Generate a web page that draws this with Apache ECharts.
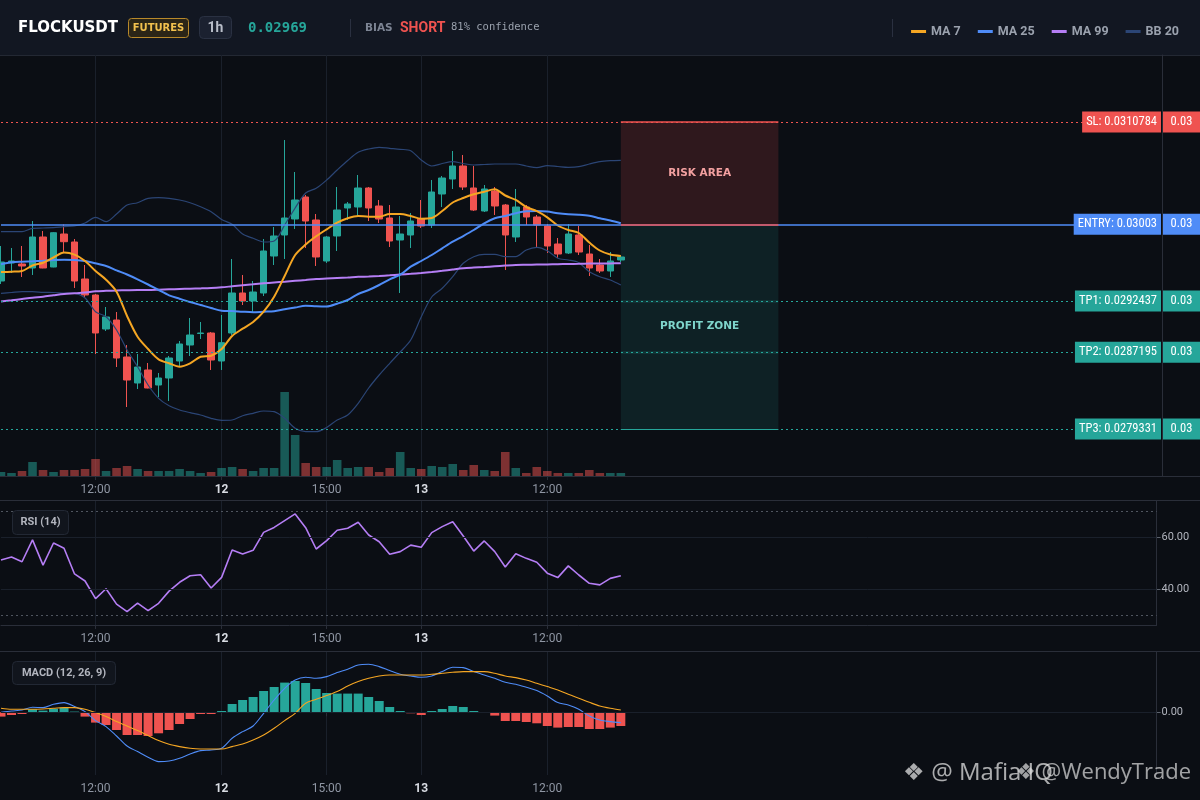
<!DOCTYPE html>
<html>
<head>
<meta charset="utf-8">
<script src="https://cdn.jsdelivr.net/npm/echarts@6/dist/echarts.min.js"></script>
<style>html,body{margin:0;padding:0;background:#0b0e14;}#c{width:1200px;height:800px;}</style>
</head>
<body>
<div id="c"></div>
<script>
// ---------- DATA ----------
const symbolName = 'FLOCKUSDT';
const lastPriceText = '0.02969';
const biasText = 'SHORT';
const confidenceText = '81% confidence';

// x slots: 60 candles + empty future slots
const candleCount = 60;
const slotCount = 111;
const tickIndex = [9, 21, 31, 40, 52];
const tickLabels = ['12:00', '12', '15:00', '13', '12:00'];
const tickBold = [false, true, false, true, false];

// [open, close, low, high]
const candles = [
  [0.0294494, 0.0296441, 0.0294187, 0.0298080],
  [0.0296338, 0.0296543, 0.0295314, 0.0297875],
  [0.0296236, 0.0296031, 0.0294904, 0.0298080],
  [0.0295826, 0.0299002, 0.0295109, 0.0300641],
  [0.0299002, 0.0295826, 0.0295800, 0.0299617],
  [0.0295928, 0.0299443, 0.0295900, 0.0299500],
  [0.0299309, 0.0298520, 0.0297363, 0.0300303],
  [0.0298490, 0.0294494, 0.0293777, 0.0298797],
  [0.0294699, 0.0293060, 0.0292855, 0.0296133],
  [0.0293060, 0.0289167, 0.0287015, 0.0293162],
  [0.0289576, 0.0290806, 0.0289372, 0.0291830],
  [0.0290499, 0.0286605, 0.0285683, 0.0291318],
  [0.0286708, 0.0284351, 0.0281585, 0.0287937],
  [0.0284044, 0.0285683, 0.0283429, 0.0287015],
  [0.0285376, 0.0283532, 0.0283500, 0.0286093],
  [0.0283839, 0.0284556, 0.0282610, 0.0285069],
  [0.0284556, 0.0286605, 0.0282200, 0.0286810],
  [0.0286298, 0.0288040, 0.0285786, 0.0288347],
  [0.0287937, 0.0288962, 0.0286810, 0.0290703],
  [0.0289116, 0.0289167, 0.0288552, 0.0290294],
  [0.0289167, 0.0286400, 0.0285376, 0.0289269],
  [0.0286298, 0.0288173, 0.0285376, 0.0291011],
  [0.0289167, 0.0293265, 0.0288962, 0.0296748],
  [0.0293265, 0.0292445, 0.0292035, 0.0295109],
  [0.0292445, 0.0293367, 0.0291318, 0.0294494],
  [0.0293265, 0.0297568, 0.0292957, 0.0298797],
  [0.0297055, 0.0299105, 0.0296133, 0.0300027],
  [0.0299207, 0.0300949, 0.0296748, 0.0308940],
  [0.0300846, 0.0302793, 0.0299822, 0.0305661],
  [0.0303100, 0.0300641, 0.0297875, 0.0303305],
  [0.0300744, 0.0296953, 0.0296031, 0.0301358],
  [0.0296543, 0.0299002, 0.0296338, 0.0299105],
  [0.0299105, 0.0301768, 0.0297568, 0.0304125],
  [0.0301973, 0.0302383, 0.0300744, 0.0302588],
  [0.0302076, 0.0304022, 0.0301154, 0.0305354],
  [0.0304022, 0.0301973, 0.0300641, 0.0304125],
  [0.0302178, 0.0300846, 0.0300436, 0.0302793],
  [0.0300949, 0.0298592, 0.0297978, 0.0302280],
  [0.0298695, 0.0299309, 0.0293265, 0.0301154],
  [0.0299207, 0.0300641, 0.0297875, 0.0301461],
  [0.0300846, 0.0300129, 0.0299924, 0.0302793],
  [0.0300231, 0.0303612, 0.0299924, 0.0304842],
  [0.0303408, 0.0305047, 0.0302076, 0.0305252],
  [0.0304944, 0.0306276, 0.0303920, 0.0307813],
  [0.0306276, 0.0304125, 0.0303817, 0.0307403],
  [0.0304022, 0.0301768, 0.0301666, 0.0306276],
  [0.0301666, 0.0303920, 0.0301563, 0.0304330],
  [0.0303715, 0.0302178, 0.0301256, 0.0304125],
  [0.0302280, 0.0299207, 0.0295621, 0.0302383],
  [0.0299002, 0.0302076, 0.0298490, 0.0303920],
  [0.0302076, 0.0301051, 0.0300231, 0.0302280],
  [0.0301051, 0.0300231, 0.0297978, 0.0301256],
  [0.0300129, 0.0298080, 0.0297363, 0.0300334],
  [0.0298285, 0.0297260, 0.0296851, 0.0298900],
  [0.0297363, 0.0299309, 0.0297260, 0.0300334],
  [0.0299207, 0.0297465, 0.0297158, 0.0300129],
  [0.0297260, 0.0295826, 0.0295006, 0.0298182],
  [0.0296133, 0.0295519, 0.0295314, 0.0296748],
  [0.0295519, 0.0296543, 0.0294904, 0.0297465],
  [0.0296646, 0.0296953, 0.0296441, 0.0297158]
];

const ma7 = [0.0295416, 0.0295447, 0.0295519, 0.0296082, 0.0296369, 0.0296902, 0.0297414, 0.0297189, 0.0296543, 0.0295519,
  0.0294627, 0.0293398, 0.0290908, 0.0288787, 0.0287527, 0.0286472, 0.0286062, 0.0285714, 0.0286062, 0.0286738,
  0.0286841, 0.0287527, 0.0288859, 0.0289607, 0.0290294, 0.0291349, 0.0292886, 0.0295006, 0.0297158, 0.0298234,
  0.0299074, 0.0299791, 0.0300467, 0.0300918, 0.0301153, 0.0301082, 0.0301082, 0.0301358, 0.0301358, 0.0301153,
  0.0300877, 0.0300948, 0.0301666, 0.0302537, 0.0302998, 0.0303377, 0.0303643, 0.0303889, 0.0303254, 0.0302793,
  0.0302075, 0.0301645, 0.0301020, 0.0300180, 0.0299719, 0.0299412, 0.0298438, 0.0297619, 0.0297209, 0.0297055];

const ma25 = [0.0296215, 0.0296410, 0.0296471, 0.0296512, 0.0296574, 0.0296646, 0.0296666, 0.0296646, 0.0296543, 0.0296307,
  0.0296031, 0.0295590, 0.0295160, 0.0294668, 0.0294135, 0.0293572, 0.0293029, 0.0292681, 0.0292343, 0.0292035,
  0.0291728, 0.0291451, 0.0291420, 0.0291349, 0.0291297, 0.0291349, 0.0291400, 0.0291605, 0.0291779, 0.0291953,
  0.0291902, 0.0291882, 0.0292168, 0.0292547, 0.0293162, 0.0293572, 0.0294084, 0.0294668, 0.0295139, 0.0295959,
  0.0296543, 0.0297158, 0.0297844, 0.0298520, 0.0299104, 0.0299719, 0.0300406, 0.0300918, 0.0301153, 0.0301430,
  0.0301635, 0.0301666, 0.0301614, 0.0301430, 0.0301328, 0.0301287, 0.0301184, 0.0300918, 0.0300692, 0.0300406];

const ma99 = [0.0292394, 0.0292517, 0.0292650, 0.0292783, 0.0292886, 0.0293029, 0.0293162, 0.0293234, 0.0293316, 0.0293449,
  0.0293490, 0.0293521, 0.0293551, 0.0293572, 0.0293572, 0.0293603, 0.0293644, 0.0293674, 0.0293705, 0.0293736,
  0.0293777, 0.0293849, 0.0293951, 0.0294053, 0.0294156, 0.0294258, 0.0294340, 0.0294422, 0.0294515, 0.0294596,
  0.0294699, 0.0294750, 0.0294801, 0.0294853, 0.0294924, 0.0294955, 0.0295006, 0.0295078, 0.0295160, 0.0295232,
  0.0295314, 0.0295416, 0.0295539, 0.0295672, 0.0295795, 0.0295867, 0.0295928, 0.0296000, 0.0296072, 0.0296133,
  0.0296154, 0.0296174, 0.0296195, 0.0296215, 0.0296236, 0.0296256, 0.0296277, 0.0296287, 0.0296297, 0.0296307];

const bbUpper = [0.0299545, 0.0299545, 0.0299545, 0.0299893, 0.0299924, 0.0299955, 0.0300057, 0.0300129, 0.0300436, 0.0301020,
  0.0300569, 0.0301358, 0.0302280, 0.0302516, 0.0302967, 0.0303028, 0.0302967, 0.0302793, 0.0302516, 0.0302106,
  0.0301594, 0.0300795, 0.0300303, 0.0299309, 0.0298869, 0.0298490, 0.0298592, 0.0300231, 0.0301973, 0.0303510,
  0.0303991, 0.0304842, 0.0305866, 0.0306840, 0.0307680, 0.0308018, 0.0308192, 0.0308089, 0.0307987, 0.0307844,
  0.0306891, 0.0306276, 0.0306532, 0.0306717, 0.0306532, 0.0306378, 0.0306430, 0.0306481, 0.0306481, 0.0306481,
  0.0306276, 0.0306102, 0.0306307, 0.0306225, 0.0306143, 0.0306204, 0.0306481, 0.0306717, 0.0306819, 0.0306860];

const bbLower = [0.0293234, 0.0293316, 0.0293398, 0.0293398, 0.0293336, 0.0293316, 0.0293265, 0.0293234, 0.0292752, 0.0291349,
  0.0290837, 0.0289474, 0.0287425, 0.0285714, 0.0283839, 0.0282476, 0.0281718, 0.0281278, 0.0281001, 0.0280765,
  0.0280427, 0.0280222, 0.0280253, 0.0280694, 0.0280940, 0.0281175, 0.0281104, 0.0280427, 0.0279403, 0.0279055,
  0.0279055, 0.0279485, 0.0280253, 0.0280765, 0.0281964, 0.0283532, 0.0284864, 0.0286062, 0.0287220, 0.0288449,
  0.0290806, 0.0292855, 0.0293746, 0.0294935, 0.0296307, 0.0296984, 0.0297229, 0.0297229, 0.0296984, 0.0296984,
  0.0297670, 0.0297947, 0.0297598, 0.0296820, 0.0296646, 0.0296369, 0.0295447, 0.0294935, 0.0294596, 0.0294084];

// volume (K)
const volumes = [40, 30, 50, 140, 60, 40, 60, 60, 70, 170,
  50, 80, 100, 70, 50, 50, 50, 70, 50, 30,
  40, 80, 90, 70, 50, 80, 80, 840, 410, 130,
  90, 90, 160, 80, 90, 90, 40, 80, 240, 80,
  70, 100, 90, 120, 60, 110, 60, 50, 240, 80,
  30, 90, 50, 30, 30, 30, 60, 30, 30, 30];

const rsi = [51.3, 52.4, 50.6, 59.0, 49.3, 57.8, 55.8, 45.9, 43.2, 36.4,
  40.2, 34.3, 31.4, 34.7, 31.8, 34.6, 39.3, 42.7, 45.2, 45.6,
  40.5, 44.6, 55.1, 53.6, 55.0, 61.9, 63.8, 66.4, 69.0, 63.7,
  55.5, 58.7, 62.7, 63.5, 65.8, 60.9, 58.3, 53.5, 54.5, 57.0,
  56.2, 61.8, 64.1, 66.0, 60.5, 54.7, 58.6, 54.5, 48.6, 53.7,
  51.9, 50.4, 46.2, 44.5, 49.0, 45.5, 42.3, 41.7, 44.2, 45.2];

// MACD values in units of 1e-6
const macdHist = [-4.3, -2.7, -1.7, 3, 1.7, 3.7, 4.7, 0.7, -4.3, -10.3,
  -12.7, -17.7, -22.7, -22.7, -23.7, -21, -17.7, -11.7, -6.7, -1.7,
  -1.7, 1.3, 8.3, 12.3, 15.3, 21.3, 25.3, 29.7, 31.3, 29.3,
  23.3, 19.3, 18.7, 18.7, 18.7, 15.3, 11.3, 5.3, 1.3, -1,
  -2.7, 1.3, 3.3, 6.3, 5.3, 1.3, -0.7, -3.3, -8.7, -8.7,
  -9.7, -11, -13.7, -15.3, -14.7, -14.7, -16.7, -16.7, -15.3, -13.7];
const macdLine = [0, 1.3, 2.3, 5, 4.7, 8, 9.7, 5.7, 0.7, -8.3,
  -14.3, -23.7, -33.7, -39.3, -45, -49.3, -48.7, -46, -41.7, -38.3,
  -37.7, -36, -26, -19.3, -13.7, -1, 12.3, 24, 32.3, 35,
  34, 35.7, 39.7, 43, 47.3, 48, 45.7, 41.7, 38, 36.3,
  35, 36.3, 40.7, 45, 44.7, 40.7, 37.3, 34, 30, 28,
  25, 21.7, 16.3, 9.7, 7.3, 3, -3.7, -7.7, -9.3, -10.3];
const macdSignal = [4, 3, 3, 3, 3.3, 4, 4.7, 4.7, 3, -0.3,
  -4.3, -9.3, -13.7, -18.3, -23.3, -28.3, -32, -34.3, -36, -36.7,
  -36.7, -36.7, -34.3, -31.7, -27.7, -22.7, -16, -8.3, -1, 9,
  13, 16.7, 20.7, 26.3, 30.7, 34, 36.3, 37.3, 37.3, 37.3,
  37.3, 38, 39, 40, 40.7, 40.7, 40.7, 39, 36.3, 34.7,
  32.3, 29, 25.7, 22.3, 18, 14, 10, 6.3, 4, 2.3];

// trade levels
const levelNames = ['SL', 'ENTRY', 'TP1', 'TP2', 'TP3'];
const levelPrices = [0.0310784, 0.03003, 0.0292437, 0.0287195, 0.0279331];
const levelAxisText = ['0.03', '0.03', '0.03', '0.03', '0.03'];
const zoneStart = 59;
const zoneEnd = 74;

// ---------- STYLE ----------
const UP = '#26a69a', DOWN = '#ef5350', ENTRYC = '#4f8cf7';
const GRIDC = '#1a202b', AXISC = '#2a2e39';
const FONT = "Roboto, 'Noto Sans', sans-serif";
const NARROW = "'Liberation Sans Narrow', 'Roboto Condensed', Roboto, sans-serif";
const levelColors = [DOWN, ENTRYC, UP, UP, UP];

const slots = Array.from({length: slotCount}, (_, i) => 'k' + i);
const isTick = (i) => tickIndex.indexOf(i) >= 0;
const tickFmt = (v, i) => {
  const k = tickIndex.indexOf(i);
  if (k < 0) return '';
  return tickBold[k] ? '{b|' + tickLabels[k] + '}' : tickLabels[k];
};

function timeAxis(gridIndex) {
  return {
    type: 'category', gridIndex, data: slots, boundaryGap: false,
    axisLine: {show: true, lineStyle: {color: AXISC}},
    axisTick: {show: true, interval: isTick, length: 4, lineStyle: {color: AXISC}},
    axisLabel: {show: true, interval: isTick, formatter: tickFmt, color: '#8f96a3', fontSize: 12,
      fontFamily: FONT, margin: 8,
      rich: {b: {fontWeight: 'bold', color: '#d9dce3', fontSize: 12, fontFamily: FONT}}},
    splitLine: {show: true, interval: isTick, lineStyle: {color: GRIDC, width: 1}}
  };
}

const gridLeft = 1, gridWidth = 1155.6;
const pMin = 0.0274516, pMax = 0.0317648;

const levelLines = levelPrices.map((p, k) => ({
  yAxis: p,
  lineStyle: {color: levelColors[k], width: k === 1 ? 1.5 : 1, type: k === 1 ? 'solid' : [2, 3]},
  label: {
    show: true, position: 'insideEnd', distance: [-43.4, 0],
    formatter: '{t|' + levelNames[k] + ': ' + String(p) + '}{g|}{v|' + levelAxisText[k] + '}',
    rich: {
      t: {backgroundColor: levelColors[k], color: '#ffffff', padding: [4, 4, 4, 4], fontSize: 12.5,
        fontFamily: NARROW, lineHeight: 13},
      g: {width: 2, height: 13},
      v: {backgroundColor: levelColors[k], color: '#ffffff', padding: [4, 4, 4, 4], fontSize: 12.5,
        fontFamily: NARROW, lineHeight: 13, width: 29, align: 'center'}
    }
  }
}));
const zoneEdges = [
  [{xAxis: zoneStart, yAxis: levelPrices[0], lineStyle: {color: DOWN, width: 1.5, type: 'solid'}, label: {show: false}}, {xAxis: zoneEnd, yAxis: levelPrices[0]}],
  [{xAxis: zoneStart, yAxis: levelPrices[1], lineStyle: {color: DOWN, width: 1.5, type: 'solid'}, label: {show: false}}, {xAxis: zoneEnd, yAxis: levelPrices[1]}],
  [{xAxis: zoneStart, yAxis: levelPrices[2], lineStyle: {color: 'rgba(38,166,154,0.14)', width: 3, type: 'solid'}, label: {show: false}}, {xAxis: zoneEnd, yAxis: levelPrices[2]}],
  [{xAxis: zoneStart, yAxis: levelPrices[3], lineStyle: {color: 'rgba(38,166,154,0.14)', width: 3, type: 'solid'}, label: {show: false}}, {xAxis: zoneEnd, yAxis: levelPrices[3]}],
  [{xAxis: zoneStart, yAxis: levelPrices[4], lineStyle: {color: UP, width: 1.2, type: 'solid'}, label: {show: false}}, {xAxis: zoneEnd, yAxis: levelPrices[4]}]
];

const zoneLabel = (txt, col) => ({show: true, position: 'inside', formatter: txt, color: col,
  fontSize: 10.5, fontWeight: 900, fontFamily: "'DejaVu Sans', sans-serif"});

const volumeData = volumes.map((v, i) => ({
  value: v,
  itemStyle: {color: candles[i][1] >= candles[i][0] ? 'rgba(38,166,154,0.5)' : 'rgba(239,83,80,0.5)'}
}));

const lineSeries = (name, data, color, width, xi, yi, smooth) => ({
  name, type: 'line', xAxisIndex: xi, yAxisIndex: yi, data, symbol: 'none', smooth: smooth,
  lineStyle: {color, width}, itemStyle: {color}, silent: true, z: 3
});

const option = {
  animation: false,
  backgroundColor: '#0b0e14',
  legend: {
    data: ['MA 7', 'MA 25', 'MA 99', 'BB 20'], right: 16, top: 20, icon: 'rect',
    itemWidth: 15, itemHeight: 3, itemGap: 17, selectedMode: false,
    textStyle: {color: '#9aa1ad', fontSize: 12.5, fontWeight: 'bold', fontFamily: FONT}
  },
  grid: [
    {left: gridLeft, top: 55, width: gridWidth, height: 421, containLabel: false, outerBoundsMode: 'none'},
    {left: gridLeft, top: 376, width: gridWidth, height: 100, containLabel: false, outerBoundsMode: 'none'},
    {left: gridLeft, top: 501, width: gridWidth, height: 124, containLabel: false, outerBoundsMode: 'none'},
    {left: gridLeft, top: 652, width: gridWidth, height: 123, containLabel: false, outerBoundsMode: 'none'}
  ],
  xAxis: [
    timeAxis(0),
    {type: 'category', gridIndex: 1, data: slots, boundaryGap: false, show: false},
    timeAxis(2),
    timeAxis(3)
  ],
  yAxis: [
    {type: 'value', gridIndex: 0, position: 'right', min: pMin, max: pMax, offset: 5.4,
      axisLine: {show: true, lineStyle: {color: AXISC}}, axisTick: {show: false},
      axisLabel: {show: false}, splitLine: {show: false}},
    {type: 'value', gridIndex: 1, min: 0, max: 1000, show: false, splitLine: {show: false}},
    {type: 'value', gridIndex: 2, position: 'right', min: 26.27, max: 73.96,
      axisLine: {show: true, lineStyle: {color: AXISC}},
      axisTick: {show: true, customValues: [40, 60], length: 4, lineStyle: {color: '#5d636e'}},
      axisLabel: {show: true, customValues: [40, 60], formatter: (v) => v.toFixed(2),
        color: '#b2b5be', fontSize: 11, fontFamily: FONT, margin: 5},
      splitLine: {show: false}},
    {type: 'value', gridIndex: 3, position: 'right', min: -62.7, max: 60.3,
      axisLine: {show: true, lineStyle: {color: AXISC}},
      axisTick: {show: true, customValues: [0], length: 4, lineStyle: {color: '#5d636e'}},
      axisLabel: {show: true, customValues: [0], formatter: (v) => (v * 1e-6).toFixed(2),
        color: '#b2b5be', fontSize: 11, fontFamily: FONT, margin: 5},
      splitLine: {show: false}}
  ],
  series: [
    {
      name: 'K', type: 'candlestick', xAxisIndex: 0, yAxisIndex: 0, data: candles, barWidth: 7,
      itemStyle: {color: UP, color0: DOWN, borderColor: UP, borderColor0: DOWN, borderWidth: 1},
      z: 2,
      markLine: {silent: true, symbol: ['none', 'none'], animation: false, precision: 8,
        data: levelLines.concat(zoneEdges)},
      markArea: {silent: true,
        data: [
          [{xAxis: zoneStart, yAxis: levelPrices[0], itemStyle: {color: 'rgba(239,83,80,0.16)'},
            label: zoneLabel('RISK AREA', '#f3a0a0')}, {xAxis: zoneEnd, yAxis: levelPrices[1]}],
          [{xAxis: zoneStart, yAxis: levelPrices[1], itemStyle: {color: 'rgba(38,166,154,0.13)'},
            label: zoneLabel('PROFIT ZONE', '#7fd6cc')}, {xAxis: zoneEnd, yAxis: levelPrices[4]}]
        ]}
    },
    lineSeries('BB 20', bbUpper, '#2b4575', 1.2, 0, 0, 0.3),
    lineSeries('BB 20', bbLower, '#2b4575', 1.2, 0, 0, 0.3),
    lineSeries('MA 99', ma99, '#b57ef5', 2, 0, 0, 0.3),
    lineSeries('MA 25', ma25, '#4f8cf7', 2, 0, 0, 0.3),
    lineSeries('MA 7', ma7, '#f5a623', 2, 0, 0, 0.3),
    {name: 'Volume', type: 'bar', xAxisIndex: 1, yAxisIndex: 1, data: volumeData, barWidth: 8.6, silent: true, z: 1},
    Object.assign(lineSeries('RSI', rsi, '#b57ef5', 1.6, 2, 2, false), {
      markLine: {silent: true, symbol: ['none', 'none'], label: {show: false},
        data: [
          {yAxis: 70, lineStyle: {color: '#4f555f', type: [2, 3], width: 1}},
          {yAxis: 30, lineStyle: {color: '#4f555f', type: [2, 3], width: 1}},
          {yAxis: 60, lineStyle: {color: GRIDC, type: 'solid', width: 1}},
          {yAxis: 40, lineStyle: {color: GRIDC, type: 'solid', width: 1}}
        ]}
    }),
    {name: 'Hist', type: 'bar', xAxisIndex: 3, yAxisIndex: 3, data: macdHist, barWidth: 9, silent: true,
      itemStyle: {color: (p) => p.value >= 0 ? UP : DOWN},
      markLine: {silent: true, symbol: ['none', 'none'], label: {show: false},
        data: [{yAxis: 0, lineStyle: {color: GRIDC, type: 'solid', width: 1}}]}},
    lineSeries('MACD', macdLine, '#4f8cf7', 1.1, 3, 3, 0.3),
    lineSeries('Signal', macdSignal, '#f5a623', 1.1, 3, 3, 0.3)
  ],
  graphic: {elements: [
    {type: 'rect', z: 0, shape: {x: 0, y: 0, width: 1200, height: 55}, style: {fill: '#121722'}},
    {type: 'line', z: 0, shape: {x1: 0, y1: 55.5, x2: 1200, y2: 55.5}, style: {stroke: '#232833', lineWidth: 1}},
    {type: 'text', z: 10, x: 18, y: 28, style: {text: symbolName, fill: '#ffffff', font: "bold 15px 'DejaVu Sans', sans-serif", verticalAlign: 'middle'}},
    {type: 'rect', z: 10, shape: {x: 128.5, y: 18.5, width: 60, height: 19, r: 3}, style: {fill: '#2b2517', stroke: '#b8892a', lineWidth: 1}},
    {type: 'text', z: 11, x: 158.5, y: 28.5, style: {text: 'FUTURES', fill: '#f2c14e', font: "bold 10px 'DejaVu Sans', sans-serif", align: 'center', verticalAlign: 'middle'}},
    {type: 'rect', z: 10, shape: {x: 199.5, y: 16.5, width: 32, height: 22, r: 4}, style: {fill: '#1b2130', stroke: '#2a3142', lineWidth: 1}},
    {type: 'text', z: 11, x: 215.5, y: 28, style: {text: '1h', fill: '#b9bec9', font: "bold 14px Roboto, sans-serif", align: 'center', verticalAlign: 'middle'}},
    {type: 'text', z: 10, x: 248, y: 28, style: {text: lastPriceText, fill: UP, font: "bold 14px 'DejaVu Sans Mono', monospace", verticalAlign: 'middle'}},
    {type: 'line', z: 10, shape: {x1: 350.5, y1: 19, x2: 350.5, y2: 37}, style: {stroke: '#2a3040', lineWidth: 1}},
    {type: 'text', z: 10, x: 365, y: 28.5, style: {text: 'BIAS', fill: '#7d8594', font: "bold 10.5px 'DejaVu Sans', sans-serif", verticalAlign: 'middle'}},
    {type: 'text', z: 10, x: 400, y: 28, style: {text: biasText, fill: DOWN, font: "bold 14px Roboto, sans-serif", verticalAlign: 'middle'}},
    {type: 'text', z: 10, x: 451, y: 27.5, style: {text: confidenceText, fill: '#9aa1ad', font: "10.5px 'DejaVu Sans Mono', monospace", verticalAlign: 'middle'}},
    {type: 'line', z: 10, shape: {x1: 892.5, y1: 19, x2: 892.5, y2: 37}, style: {stroke: '#2a3040', lineWidth: 1}},
    {type: 'line', z: 0, shape: {x1: 0, y1: 476.5, x2: 1200, y2: 476.5}, style: {stroke: AXISC, lineWidth: 1}},
    {type: 'line', z: 0, shape: {x1: 0, y1: 500.5, x2: 1200, y2: 500.5}, style: {stroke: AXISC, lineWidth: 1}},
    {type: 'line', z: 0, shape: {x1: 0, y1: 651.5, x2: 1200, y2: 651.5}, style: {stroke: AXISC, lineWidth: 1}},
    {type: 'rect', z: 10, shape: {x: 12.5, y: 510.5, width: 56, height: 24, r: 4}, style: {fill: '#11151d', stroke: '#222834', lineWidth: 1}},
    {type: 'text', z: 11, x: 40.5, y: 522.5, style: {text: 'RSI (14)', fill: '#b2b5be', font: "bold 11px Roboto, sans-serif", align: 'center', verticalAlign: 'middle'}},
    {type: 'rect', z: 10, shape: {x: 12.5, y: 661.5, width: 103, height: 23, r: 4}, style: {fill: '#11151d', stroke: '#222834', lineWidth: 1}},
    {type: 'text', z: 11, x: 64, y: 673, style: {text: 'MACD (12, 26, 9)', fill: '#b2b5be', font: "bold 11px Roboto, sans-serif", align: 'center', verticalAlign: 'middle'}},
    {type: 'text', z: 100, x: 903, y: 773, style: {text: '\u2756 @ Mafia IQ', fill: 'rgba(225,225,225,0.75)', font: "24px 'Open Sans', sans-serif", align: 'left', verticalAlign: 'middle'}},
    {type: 'text', z: 100, x: 1191, y: 773, style: {text: '\u2756 @WendyTrade', fill: 'rgba(225,225,225,0.7)', font: "22px 'Open Sans', sans-serif", align: 'right', verticalAlign: 'middle'}}
  ]}
};

const chart = echarts.init(document.getElementById('c'), null, {renderer: 'canvas', width: 1200, height: 800});
chart.setOption(option);
</script>
</body>
</html>
